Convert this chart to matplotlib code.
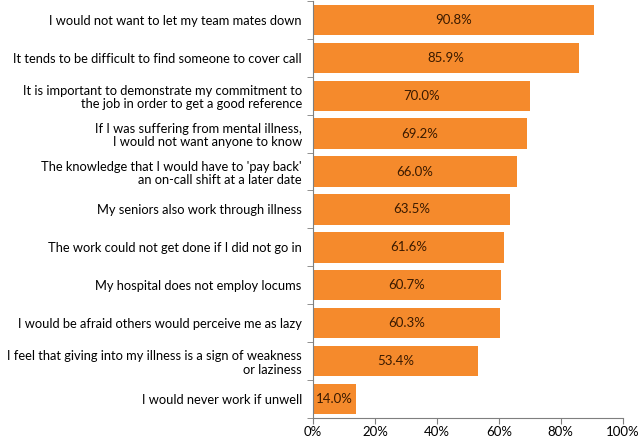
import matplotlib
matplotlib.use("Agg")
import matplotlib.pyplot as plt
import numpy as np
from matplotlib.ticker import FuncFormatter, FixedLocator

plt.rcParams['font.family'] = ['Lato', 'DejaVu Sans']

reasons = [
    "I would not want to let my team mates down",
    "It tends to be difficult to find someone to cover call",
    "It is important to demonstrate my commitment to\nthe job in order to get a good reference",
    "If I was suffering from mental illness,\nI would not want anyone to know",
    "The knowledge that I would have to 'pay back'\nan on-call shift at a later date",
    "My seniors also work through illness",
    "The work could not get done if I did not go in",
    "My hospital does not employ locums",
    "I would be afraid others would perceive me as lazy",
    "I feel that giving into my illness is a sign of weakness\nor laziness",
    "I would never work if unwell",
]
percent = [90.8, 85.9, 70.0, 69.2, 66.0, 63.5, 61.6, 60.7, 60.3, 53.4, 14.0]

bar_color = '#F58A2C'
axis_color = '#7f7f7f'

fig = plt.figure(figsize=(6.4, 4.4), dpi=100)
ax = fig.add_axes([0.489, 0.05, 0.484, 0.948])

y = np.arange(len(reasons))
bars = ax.barh(y, [p / 100 for p in percent], height=0.8, color=bar_color)

for b, p in zip(bars, percent):
    ax.text(b.get_width() / 2, b.get_y() + b.get_height() / 2, f"{p:.1f}%",
            ha='center', va='center', fontsize=9.5, color='#3a1a00')

ax.set_xlim(0, 1)
ax.set_ylim(len(reasons) - 0.5, -0.5)
ax.set_xticks(np.arange(0, 1.01, 0.2))
ax.xaxis.set_major_formatter(FuncFormatter(lambda v, _: f"{v * 100:.0f}%"))

ax.set_yticks(y)
ax.set_yticklabels(reasons, fontsize=9.3, ha='right', linespacing=1.15)
ax.tick_params(axis='y', length=0, pad=8)
ax.yaxis.set_minor_locator(FixedLocator(np.arange(-0.5, len(reasons), 1)))
ax.tick_params(axis='y', which='minor', length=4, color=axis_color)
ax.tick_params(axis='x', length=4, color=axis_color, labelsize=9.5, pad=2)

for s in ['top', 'right']:
    ax.spines[s].set_visible(False)
for s in ['left', 'bottom']:
    ax.spines[s].set_color(axis_color)

fig.savefig('out.png', dpi=100)
